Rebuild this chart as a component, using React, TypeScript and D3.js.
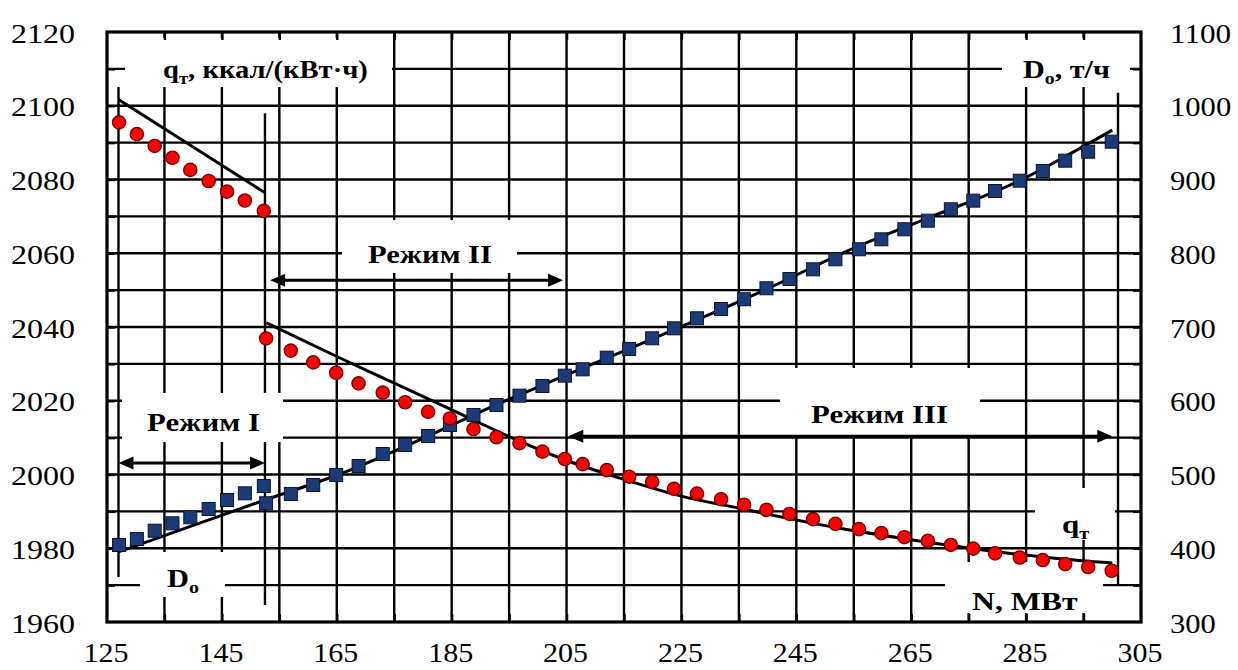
import { useEffect, useRef } from "react";
import * as d3 from "d3";

const WIDTH = 1238;
const HEIGHT = 670;
const PLOT = { left: 107, right: 1141, top: 32, bottom: 622 };
const SERIF = "'Liberation Serif', 'Times New Roman', serif";

// tick labels
const X_TICK_LABELS = [125, 145, 165, 185, 205, 225, 245, 265, 285, 305];
const LEFT_TICK_LABELS = [1960, 1980, 2000, 2020, 2040, 2060, 2080, 2100, 2120];
const RIGHT_TICK_LABELS = [300, 400, 500, 600, 700, 800, 900, 1000, 1100];

// Режим I: N, МВт / qт, ккал/(кВт·ч) / Dо, т/ч
const N_MODE1 = [127.1, 130.2, 133.3, 136.4, 139.5, 142.7, 145.9, 149.0, 152.3];
const Q_MODE1 = [2095.5, 2092.3, 2089.1, 2085.9, 2082.6, 2079.6, 2076.7, 2074.3, 2071.5];
const D_MODE1 = [404.4, 412.5, 423.8, 433.8, 442, 453.2, 465.4, 474.5, 484.4];

// Режим II + III
const N_MODE23 = [
  152.7, 157, 160.9, 164.9, 168.8, 173, 176.9, 180.9, 184.7, 188.8, 192.8, 196.8, 200.8, 204.7,
  207.8, 212, 215.9, 219.9, 223.7, 227.7, 231.9, 235.9, 239.8, 243.8, 247.9, 251.8, 255.9, 259.8,
  263.8, 267.9, 271.9, 275.8, 279.6, 283.9, 287.9, 291.8, 295.8, 299.9,
];
const Q_MODE23 = [
  2036.9, 2033.6, 2030.4, 2027.6, 2024.7, 2022.2, 2019.6, 2017.0, 2015.2, 2012.3, 2010.1, 2008.5,
  2006.2, 2004.2, 2002.8, 2001.2, 1999.4, 1998.0, 1996.1, 1994.8, 1993.3, 1991.8, 1990.4, 1989.3,
  1987.9, 1986.6, 1985.2, 1984.1, 1983.0, 1982.0, 1980.9, 1979.9, 1978.6, 1977.5, 1976.8, 1975.7,
  1974.9, 1973.9,
];
const D_MODE23 = [
  461, 473.6, 485.8, 499.3, 511.5, 527.8, 540, 552.2, 567.1, 580.7, 594.2, 606.9, 620, 634, 642.6,
  658.4, 670.2, 684.7, 698.2, 711.8, 724.4, 737.6, 752.5, 765.1, 778.2, 791.8, 805.4, 818.9, 832.5,
  844.1, 859.6, 871.3, 884.4, 898.4, 911.5, 925.5, 937.7, 951.3,
];

// trend lines: [N, value]
const Q_FIT_MODE1: [number, number][] = [
  [127, 2101.7],
  [152.5, 2076.4],
];
const Q_FIT_MODE23: [number, number][] = [
  [152.7, 2041.2], [165, 2032], [175, 2024.8], [186.7, 2016.3], [195, 2010.3], [204.7, 2004],
  [214.3, 1999], [224.8, 1994.2], [235.2, 1990.8], [252.6, 1985.4], [265, 1982.3], [279.6, 1979.1],
  [290, 1977.3], [300, 1976],
];
const D_FIT: [number, number][] = [
  [127, 395], [140, 431], [152.7, 466], [165, 499], [180, 549], [190, 585], [204.7, 634],
  [220, 684], [240, 752], [255, 807], [268, 848], [284, 899], [292, 932], [300, 967],
];

// mode boundaries (N, from q, to q) and arrows (from N, to N, at q)
const MODE_LINES = [
  { n: 127, q0: 2105.1, q1: 1972.2 },
  { n: 152.5, q0: 2098, q1: 1964.6 },
  { n: 301, q0: 2103.5, q1: 1970 },
];
const MODE_ARROWS = [
  { n0: 127, n1: 152.5, q: 2003.1 },
  { n0: 153.4, n1: 204.4, q: 2052.7 },
  { n0: 205.3, n1: 300, q: 2010.4 },
];

type Part = [string, boolean];
const LABELS: { parts: Part[]; x: number; y: number; w: number; box: [number, number, number, number] }[] = [
  { parts: [["q", false], ["т", true], [", ккал/(кВт·ч)", false]], x: 163, y: 78, w: 205, box: [125, 38, 392, 87] },
  { parts: [["D", false], ["о", true], [", т/ч", false]], x: 1023, y: 78, w: 87, box: [1002, 38, 1130, 87] },
  { parts: [["Режим II", false]], x: 368, y: 263, w: 124, box: [342, 220, 517, 273] },
  { parts: [["Режим I", false]], x: 147, y: 431, w: 113, box: [122, 393, 283, 442] },
  { parts: [["Режим III", false]], x: 811, y: 423, w: 137, box: [780, 368, 980, 436] },
  { parts: [["D", false], ["о", true]], x: 167, y: 587, w: 32, box: [140, 552, 225, 597] },
  { parts: [["q", false], ["т", true]], x: 1062, y: 533, w: 28, box: [1035, 488, 1115, 540] },
  { parts: [["N, МВт", false]], x: 972, y: 610, w: 106, box: [945, 562, 1103, 613] },
];

export default function App() {
  const svgRef = useRef<SVGSVGElement>(null);

  useEffect(() => {
    document.body.style.margin = "0";
    const svgEl = svgRef.current;
    if (!svgEl) return;
    const svg = d3.select(svgEl);
    svg.selectAll("*").remove();

    const x = d3.scaleLinear().domain([125, 305]).range([PLOT.left, PLOT.right]);
    const yL = d3.scaleLinear().domain([1960, 2120]).range([PLOT.bottom, PLOT.top]);
    const yR = d3.scaleLinear().domain([300, 1100]).range([PLOT.bottom, PLOT.top]);

    svg.append("rect").attr("width", WIDTH).attr("height", HEIGHT).attr("fill", "#fff");

    // grid
    const grid = svg.append("g").attr("stroke", "#000").attr("stroke-width", 2.4);
    grid
      .selectAll("line.v")
      .data(d3.range(135, 300, 10))
      .join("line")
      .attr("class", "v")
      .attr("x1", (d) => x(d))
      .attr("x2", (d) => x(d))
      .attr("y1", PLOT.top)
      .attr("y2", PLOT.bottom);
    grid
      .selectAll("line.h")
      .data(d3.range(1970, 2120, 10))
      .join("line")
      .attr("class", "h")
      .attr("x1", PLOT.left)
      .attr("x2", PLOT.right)
      .attr("y1", (d) => yL(d))
      .attr("y2", (d) => yL(d));

    // mode boundaries
    svg
      .append("g")
      .selectAll("line")
      .data(MODE_LINES)
      .join("line")
      .attr("x1", (d) => x(d.n))
      .attr("x2", (d) => x(d.n))
      .attr("y1", (d) => yL(d.q0))
      .attr("y2", (d) => yL(d.q1))
      .attr("stroke", "#000")
      .attr("stroke-width", 2.4);

    // white label boxes
    svg
      .append("g")
      .selectAll("rect")
      .data(LABELS)
      .join("rect")
      .attr("x", (d) => d.box[0])
      .attr("y", (d) => d.box[1])
      .attr("width", (d) => d.box[2] - d.box[0])
      .attr("height", (d) => d.box[3] - d.box[1])
      .attr("fill", "#fff");

    // inner ticks
    const tickOpts = (a: d3.Axis<d3.NumberValue>) => a.tickSizeInner(-8).tickSizeOuter(0).tickFormat(() => "");
    const inner = [
      { axis: tickOpts(d3.axisBottom(x).tickValues(d3.range(135, 300, 10))), t: `translate(0,${PLOT.bottom})` },
      { axis: tickOpts(d3.axisTop(x).tickValues(d3.range(135, 300, 10))), t: `translate(0,${PLOT.top})` },
      { axis: tickOpts(d3.axisLeft(yL).tickValues(d3.range(1970, 2120, 10))), t: `translate(${PLOT.left},0)` },
      { axis: tickOpts(d3.axisRight(yL).tickValues(d3.range(1970, 2120, 10))), t: `translate(${PLOT.right},0)` },
    ];
    inner.forEach(({ axis, t }) => {
      const g = svg.append("g").attr("transform", t).call(axis);
      g.select(".domain").remove();
      g.selectAll("line").attr("stroke", "#000").attr("stroke-width", 2.4);
    });

    // frame
    svg
      .append("rect")
      .attr("x", PLOT.left)
      .attr("y", PLOT.top)
      .attr("width", PLOT.right - PLOT.left)
      .attr("height", PLOT.bottom - PLOT.top)
      .attr("fill", "none")
      .attr("stroke", "#000")
      .attr("stroke-width", 3.2);

    // tick labels
    const styleLabels = (g: d3.Selection<SVGGElement, unknown, null, undefined>, perChar: number) => {
      g.select(".domain").remove();
      g.selectAll("line").remove();
      g.selectAll<SVGTextElement, number>("text")
        .attr("font-family", SERIF)
        .attr("font-size", 27)
        .attr("fill", "#000")
        .attr("lengthAdjust", "spacingAndGlyphs")
        .attr("textLength", (d) => String(d).length * perChar);
    };
    const left = svg
      .append("g")
      .attr("transform", `translate(${PLOT.left},0)`)
      .call(d3.axisLeft(yL).tickValues(LEFT_TICK_LABELS).tickSize(0).tickPadding(32).tickFormat(d3.format("d")));
    styleLabels(left, 16);
    left.selectAll("text").attr("dy", "0.37em");

    const right = svg
      .append("g")
      .attr("transform", `translate(${PLOT.right},0)`)
      .call(d3.axisRight(yR).tickValues(RIGHT_TICK_LABELS).tickSize(0).tickPadding(29).tickFormat(d3.format("d")));
    styleLabels(right, 15.3);
    right.selectAll("text").attr("dy", "0.37em");

    const bottom = svg
      .append("g")
      .attr("transform", `translate(0,${PLOT.bottom})`)
      .call(d3.axisBottom(x).tickValues(X_TICK_LABELS).tickSize(0).tickPadding(21).tickFormat(d3.format("d")));
    styleLabels(bottom, 15);
    bottom.selectAll("text").attr("dx", -1.5);

    // bold labels, stretched to the measured width
    LABELS.forEach((lab) => {
      const t = svg
        .append("text")
        .attr("font-family", SERIF)
        .attr("font-weight", "bold")
        .attr("font-size", 26)
        .attr("fill", "#000");
      let shift = 0;
      lab.parts.forEach(([s, sub]) => {
        const target = sub ? 6 : 0;
        t.append("tspan")
          .attr("font-size", sub ? 17 : 26)
          .attr("dy", target - shift)
          .text(s);
        shift = target;
      });
      const w = (t.node() as SVGTextElement).getBBox().width || lab.w;
      t.attr("transform", `translate(${lab.x},${lab.y}) scale(${lab.w / w},1)`);
    });

    // arrows
    const arrows = svg.append("g");
    MODE_ARROWS.forEach((a) => {
      const x0 = x(a.n0);
      const x1 = x(a.n1);
      const yy = yL(a.q);
      const head = 15;
      const hw = 6.5;
      arrows
        .append("line")
        .attr("x1", x0 + head - 2)
        .attr("x2", x1 - head + 2)
        .attr("y1", yy)
        .attr("y2", yy)
        .attr("stroke", "#000")
        .attr("stroke-width", 3);
      arrows
        .append("path")
        .attr("d", `M${x0},${yy}L${x0 + head},${yy - hw}L${x0 + head},${yy + hw}Z M${x1},${yy}L${x1 - head},${yy - hw}L${x1 - head},${yy + hw}Z`)
        .attr("fill", "#000");
    });

    // trend lines
    const qLine = d3
      .line<[number, number]>()
      .x((d) => x(d[0]))
      .y((d) => yL(d[1]))
      .curve(d3.curveMonotoneX);
    const dLine = d3
      .line<[number, number]>()
      .x((d) => x(d[0]))
      .y((d) => yR(d[1]))
      .curve(d3.curveMonotoneX);
    [qLine(Q_FIT_MODE1), qLine(Q_FIT_MODE23), dLine(D_FIT)].forEach((p) => {
      svg
        .append("path")
        .attr("d", p ?? "")
        .attr("fill", "none")
        .attr("stroke", "#000")
        .attr("stroke-width", 3);
    });

    // Dо squares
    const dPoints = [
      ...N_MODE1.map((n, i) => [n, D_MODE1[i]]),
      ...N_MODE23.map((n, i) => [n, D_MODE23[i]]),
    ];
    const sq = 13;
    svg
      .append("g")
      .selectAll("rect")
      .data(dPoints)
      .join("rect")
      .attr("x", (d) => x(d[0]) - sq / 2)
      .attr("y", (d) => yR(d[1]) - sq / 2)
      .attr("width", sq)
      .attr("height", sq)
      .attr("fill", "#1c3a78")
      .attr("stroke", "#0a1632")
      .attr("stroke-width", 1);

    // qт circles
    const qPoints = [
      ...N_MODE1.map((n, i) => [n, Q_MODE1[i]]),
      ...N_MODE23.map((n, i) => [n, Q_MODE23[i]]),
    ];
    svg
      .append("g")
      .selectAll("circle")
      .data(qPoints)
      .join("circle")
      .attr("cx", (d) => x(d[0]))
      .attr("cy", (d) => yL(d[1]))
      .attr("r", 6.6)
      .attr("fill", "#ff0000")
      .attr("stroke", "#7a0000")
      .attr("stroke-width", 1.4);
  }, []);

  return (
    <svg
      ref={svgRef}
      width={WIDTH}
      height={HEIGHT}
      style={{ display: "block" }}
      role="img"
      aria-label="qт и Dо в зависимости от N"
    />
  );
}
